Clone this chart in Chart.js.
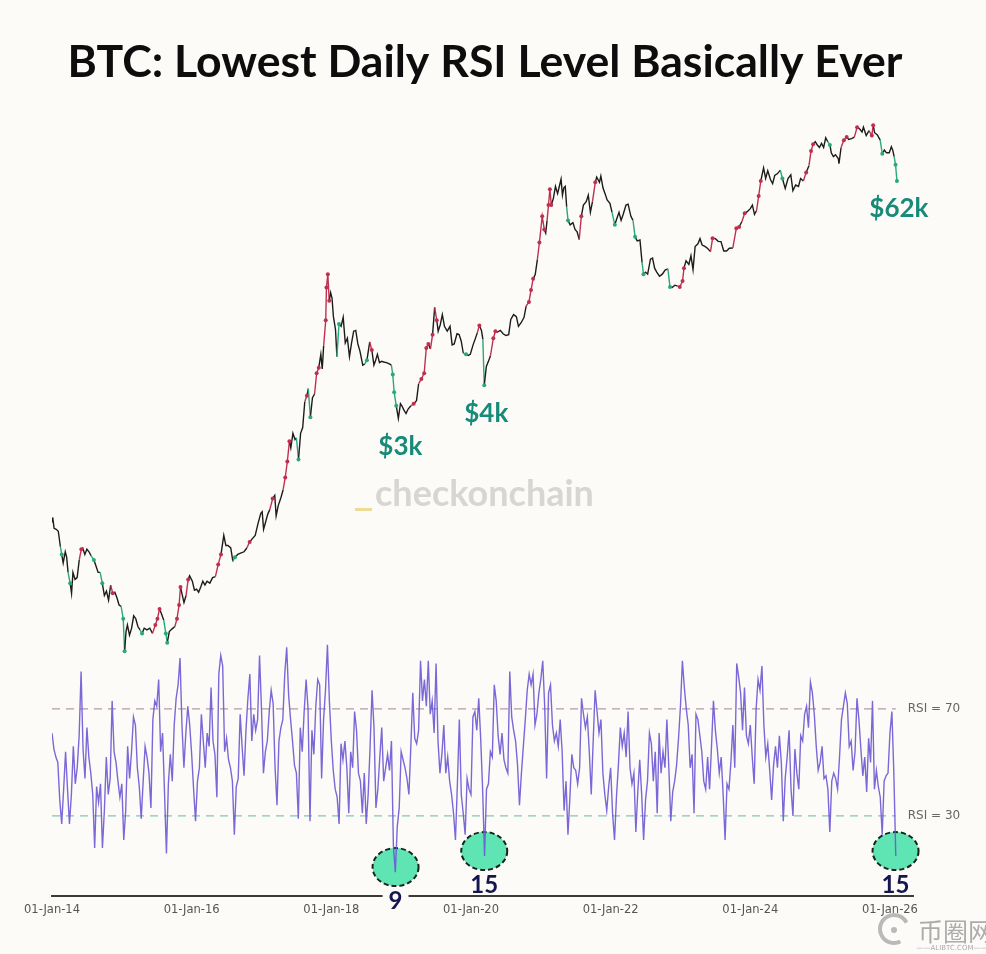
<!DOCTYPE html>
<html>
<head>
<meta charset="utf-8">
<title>BTC: Lowest Daily RSI Level Basically Ever</title>
<script src="https://cdn.jsdelivr.net/npm/chart.js@4.4.1/dist/chart.umd.min.js"></script>
<style>
  html, body { margin: 0; padding: 0; background: #fdfbf8; }
  #wrap { width: 986px; height: 954px; }
</style>
</head>
<body>
<div id="wrap"><canvas id="chart" width="986" height="954"></canvas></div>
<script>
const TITLE = 'BTC: Lowest Daily RSI Level Basically Ever';

// x axis ticks
const tickYears = [2014, 2016, 2018, 2020, 2022, 2024, 2026];
const tickLabels = ['01-Jan-14', '01-Jan-16', '01-Jan-18', '01-Jan-20', '01-Jan-22', '01-Jan-24', '01-Jan-26'];

// BTC daily close (USD), dates as decimal years
const priceYears = [
  2014.00, 2014.01, 2014.03, 2014.06, 2014.09, 2014.12, 2014.14, 2014.16, 2014.19, 2014.21, 2014.23, 2014.26, 2014.28, 2014.30, 2014.33, 2014.36, 2014.39, 2014.42, 2014.44, 2014.47, 2014.50, 2014.53, 2014.56, 2014.60, 2014.63, 2014.66, 2014.69, 2014.72, 2014.75, 2014.78, 2014.81, 2014.84, 2014.87, 2014.90, 2014.93, 2014.96, 2014.99,
  2015.02, 2015.04, 2015.06, 2015.08, 2015.11, 2015.14, 2015.17, 2015.20, 2015.23, 2015.26, 2015.29, 2015.32, 2015.36, 2015.40, 2015.44, 2015.48, 2015.51, 2015.54, 2015.57, 2015.60, 2015.63, 2015.65, 2015.68, 2015.72, 2015.76, 2015.79, 2015.82, 2015.84, 2015.86, 2015.89, 2015.92, 2015.95, 2015.97,
  2016.01, 2016.04, 2016.07, 2016.10, 2016.13, 2016.16, 2016.19, 2016.22, 2016.26, 2016.30, 2016.34, 2016.38, 2016.42, 2016.46, 2016.49, 2016.52, 2016.56, 2016.59, 2016.62, 2016.66, 2016.70, 2016.75, 2016.79, 2016.83, 2016.87, 2016.91, 2016.95, 2016.99,
  2017.01, 2017.03, 2017.06, 2017.09, 2017.12, 2017.16, 2017.19, 2017.21, 2017.24, 2017.28, 2017.31, 2017.34, 2017.37, 2017.40, 2017.42, 2017.45, 2017.48, 2017.50, 2017.53, 2017.56, 2017.59, 2017.62, 2017.65, 2017.67, 2017.70, 2017.73, 2017.76, 2017.79, 2017.82, 2017.85, 2017.87, 2017.89, 2017.92, 2017.93, 2017.95, 2017.97, 2017.99,
  2018.01, 2018.03, 2018.06, 2018.08, 2018.11, 2018.14, 2018.17, 2018.20, 2018.23, 2018.26, 2018.29, 2018.32, 2018.35, 2018.38, 2018.41, 2018.45, 2018.48, 2018.51, 2018.55, 2018.58, 2018.61, 2018.63, 2018.66, 2018.69, 2018.72, 2018.75, 2018.79, 2018.83, 2018.86, 2018.88, 2018.90, 2018.93, 2018.96, 2018.99,
  2019.01, 2019.04, 2019.07, 2019.10, 2019.14, 2019.18, 2019.22, 2019.25, 2019.29, 2019.33, 2019.36, 2019.39, 2019.42, 2019.45, 2019.48, 2019.51, 2019.53, 2019.56, 2019.59, 2019.62, 2019.66, 2019.70, 2019.73, 2019.76, 2019.80, 2019.83, 2019.86, 2019.89, 2019.93, 2019.96, 2019.99,
  2020.03, 2020.06, 2020.09, 2020.12, 2020.15, 2020.17, 2020.19, 2020.22, 2020.25, 2020.28, 2020.32, 2020.35, 2020.38, 2020.42, 2020.46, 2020.50, 2020.54, 2020.57, 2020.61, 2020.65, 2020.68, 2020.72, 2020.76, 2020.79, 2020.83, 2020.86, 2020.89, 2020.92, 2020.95, 2020.98,
  2021.02, 2021.05, 2021.07, 2021.09, 2021.11, 2021.13, 2021.15, 2021.18, 2021.21, 2021.24, 2021.27, 2021.29, 2021.31, 2021.33, 2021.35, 2021.37, 2021.39, 2021.42, 2021.46, 2021.49, 2021.52, 2021.55, 2021.58, 2021.61, 2021.65, 2021.68, 2021.71, 2021.74, 2021.78, 2021.80, 2021.84, 2021.86, 2021.89, 2021.92, 2021.95, 2021.99,
  2022.02, 2022.06, 2022.09, 2022.12, 2022.15, 2022.18, 2022.22, 2022.25, 2022.29, 2022.32, 2022.35, 2022.38, 2022.42, 2022.45, 2022.47, 2022.50, 2022.53, 2022.57, 2022.60, 2022.63, 2022.66, 2022.70, 2022.74, 2022.78, 2022.82, 2022.85, 2022.88, 2022.92, 2022.96, 2022.99,
  2023.03, 2023.05, 2023.08, 2023.12, 2023.15, 2023.18, 2023.21, 2023.25, 2023.28, 2023.31, 2023.35, 2023.39, 2023.43, 2023.46, 2023.50, 2023.54, 2023.58, 2023.62, 2023.66, 2023.70, 2023.75, 2023.80, 2023.84, 2023.88, 2023.92, 2023.96,
  2024.00, 2024.03, 2024.06, 2024.09, 2024.12, 2024.15, 2024.19, 2024.22, 2024.25, 2024.29, 2024.32, 2024.35, 2024.39, 2024.43, 2024.46, 2024.50, 2024.54, 2024.58, 2024.61, 2024.65, 2024.69, 2024.72, 2024.76, 2024.80, 2024.84, 2024.87, 2024.90, 2024.93, 2024.96, 2024.99,
  2025.02, 2025.05, 2025.08, 2025.11, 2025.14, 2025.16, 2025.19, 2025.22, 2025.26, 2025.27, 2025.30, 2025.34, 2025.38, 2025.41, 2025.45, 2025.49, 2025.53, 2025.57, 2025.60, 2025.62, 2025.66, 2025.70, 2025.74, 2025.76, 2025.78, 2025.82, 2025.86, 2025.89, 2025.92, 2025.95, 2025.99,
  2026.02, 2026.04, 2026.06, 2026.08, 2026.10
];
const priceUsd = [
  900, 950, 830, 820, 800, 660, 600, 540, 620, 580, 480, 420, 370, 480, 440, 450, 560, 640, 650, 600, 640, 620, 590, 560, 520, 480, 480, 420, 360, 380, 340, 410, 370, 375, 350, 320, 315,
  270, 180, 230, 250, 220, 240, 280, 270, 245, 235, 225, 240, 235, 240, 225, 250, 270, 305, 285, 265, 225, 200, 230, 238, 245, 270, 320, 400, 370, 330, 360, 440, 460,
  430, 385, 390, 375, 400, 430, 410, 430, 420, 450, 455, 530, 600, 760, 670, 670, 650, 550, 580, 600, 610, 620, 650, 700, 730, 760, 880, 1000,
  1020, 820, 900, 990, 1050, 1200, 1250, 970, 1100, 1220, 1340, 1560, 1900, 2450, 2250, 2700, 2500, 2550, 1950, 2700, 2900, 4000, 4300, 4700, 3300, 4200, 4400, 5700, 6100, 7200, 6000, 8000, 11000, 16500, 19500, 14000, 15500,
  14500, 11500, 9800, 7000, 10500, 10200, 11400, 8300, 8800, 7000, 8300, 9600, 9700, 8200, 7500, 6300, 6400, 6700, 8400, 7600, 6300, 6600, 7200, 6500, 6600, 6550, 6500, 6400, 6300, 5600, 4500, 3800, 3250, 3900,
  3800, 3600, 3450, 3650, 3800, 3900, 4050, 5000, 5300, 5700, 7800, 8200, 7700, 9200, 12900, 11000, 9600, 10400, 11800, 10200, 9600, 10200, 8100, 8200, 9300, 9200, 8500, 7300, 7200, 7100, 7200,
  8100, 8700, 9400, 10300, 9700, 8700, 4900, 6200, 6600, 7100, 8800, 9600, 9500, 9700, 9300, 9100, 9200, 11100, 11800, 11500, 10200, 10700, 11400, 13100, 13800, 16000, 18400, 19400, 23300, 28900,
  40000, 34000, 32500, 38000, 46000, 56000, 46000, 50000, 58000, 53000, 59000, 63500, 52000, 57000, 58000, 45000, 38000, 36000, 37000, 34000, 33000, 30000, 40000, 46000, 48000, 52000, 42000, 48000, 61000, 65000, 61000, 66000, 57000, 53000, 49000, 47000,
  42000, 36000, 39000, 42000, 38000, 41000, 46000, 46500, 40000, 38000, 31000, 29500, 29800, 22500, 19500, 20000, 19500, 23500, 23800, 21000, 20000, 19000, 19500, 20500, 20800, 16600, 16500, 17000, 16800, 16600,
  17900, 21000, 23000, 22000, 24500, 20600, 27500, 28400, 30300, 28000, 27500, 26800, 25800, 30500, 30300, 29300, 29200, 26000, 26000, 26900, 27000, 34500, 35000, 37500, 41500, 42500,
  44000, 46000, 41000, 43000, 51500, 62000, 73000, 64000, 70500, 63000, 60000, 66500, 68000, 71000, 64000, 56500, 64000, 67000, 55000, 59000, 58000, 64000, 62000, 69000, 75000, 90000, 98000, 101000, 97000, 94000,
  99000, 94000, 106000, 101000, 97000, 88000, 84000, 86000, 82000, 77000, 94000, 103000, 107000, 104000, 105000, 107000, 121000, 118000, 114000, 121000, 109000, 116000, 109000, 124000, 113000, 110000, 103000, 87000, 91000, 88000, 88000,
  95000, 91000, 84000, 76000, 62000
];

// daily RSI, sampled 36 times a year from 01-Jan-14
const RSI_START = 2014;
const RSI_PER_YEAR = 36;
const rsiValues = [
  61, 55, 52, 50, 36, 27, 40, 54, 40, 27, 38, 56, 42, 48, 60, 84, 55, 44, 63, 52,
  46, 38, 18, 41, 35, 42, 18, 32, 52, 38, 44, 73, 54, 50, 43, 37, 42, 21, 32, 56,
  44, 54, 67, 64, 48, 41, 29, 43, 56, 52, 46, 33, 66, 73, 71, 81, 54, 61, 39, 16,
  42, 53, 43, 64, 74, 79, 89, 64, 48, 61, 71, 64, 53, 40, 28, 43, 48, 68, 58, 48,
  61, 56, 78, 58, 53, 37, 83, 90, 86, 54, 59, 51, 48, 43, 23, 41, 44, 68, 56, 45,
  62, 74, 83, 58, 68, 62, 66, 90, 70,
  46, 54, 58, 69, 77, 72, 48, 34, 58, 63, 66, 83, 93, 75, 66, 58, 49, 46, 29, 63,
  54, 69, 81, 70, 28, 62, 53, 71, 81, 79, 44, 66, 77, 94, 73, 58, 47, 40, 37, 27,
  57, 51, 58, 48, 31, 54, 48, 69, 62, 46, 43, 31, 46, 27, 38, 56, 77, 63, 33, 40,
  52, 63, 43, 48, 53, 47, 58, 19, 9, 26, 33, 54, 51, 48, 44, 38, 56, 76, 59, 57,
  62, 88, 73, 81, 71, 88, 68, 73, 61, 87, 58, 46, 53, 64, 46, 52, 43, 38, 31, 21,
  42, 66, 38, 31, 23, 44, 40, 38,
  67, 69, 62, 74, 59, 40, 15, 40, 42, 54, 52, 79, 73, 60, 53, 61, 51, 48, 46, 84,
  67, 62, 58, 49, 34, 46, 56, 66, 77, 83, 79, 83, 64, 68, 76, 81, 88, 71, 44, 76,
  79, 64, 58, 61, 56, 66, 54, 32, 43, 23, 37, 53, 48, 47, 42, 48, 74, 68, 63, 67,
  54, 38, 58, 77, 69, 61, 66, 46, 38, 32, 41, 48, 31, 21, 37, 49, 63, 56, 61, 52,
  69, 48, 42, 46, 24, 39, 51, 38, 21, 36, 43, 61, 57, 43, 54, 31, 61, 46, 54, 48,
  66, 48, 28, 39, 43, 49, 59, 71,
  88, 78, 70, 64, 48, 53, 31, 68, 66, 60, 54, 43, 40, 52, 40, 56, 73, 62, 55, 46,
  52, 38, 21, 42, 40, 50, 64, 48, 87, 82, 76, 62, 78, 60, 57, 64, 52, 42, 70, 81,
  77, 86, 64, 52, 57, 47, 36, 49, 56, 48, 60, 50, 28, 44, 52, 62, 40, 30, 55, 46,
  40, 60, 58, 68, 71, 63, 80, 76, 68, 56, 47, 50, 56, 44, 45, 40, 24, 43, 46, 44,
  40, 52, 66, 71, 76, 72, 56, 58, 47, 54, 74, 66, 55, 45, 52, 39, 59, 50, 73, 40,
  47, 41, 37, 23, 43, 45, 46, 61, 69, 46, 15
];
const rsiYears = rsiValues.map((_, i) => RSI_START + i / RSI_PER_YEAR);
const rsiEnd = rsiYears[rsiYears.length - 1];

// overbought / oversold guide levels
const rsiLevels = [70, 30];
const rsiLevelLabels = ['RSI = 70', 'RSI = 30'];

// callouts on the price line
const calloutYears = [2018.96, 2020.19, 2026.10];
const calloutLabels = ['$3k', '$4k', '$62k'];

// circled RSI lows
const lowYears = [2018.92, 2020.19, 2026.08];

const HOT = '#c0304e';
const COLD = '#27a97c';
const BG = '#fdfbf8';

function rsiAt(year) {
  let i = Math.round((year - RSI_START) * RSI_PER_YEAR);
  i = Math.max(0, Math.min(rsiValues.length - 1, i));
  return rsiValues[i];
}

function zoneColor(year, normal) {
  const r = rsiAt(year);
  if (r > 70) return HOT;
  if (r < 30) return COLD;
  return normal;
}

const decorations = {
  id: 'decorations',
  beforeDraw(chart) {
    const { ctx, width, height } = chart;
    ctx.save();
    ctx.fillStyle = BG;
    ctx.fillRect(0, 0, width, height);
    ctx.restore();
  },
  beforeDatasetsDraw(chart) {
    const { ctx, scales } = chart;
    ctx.save();
    lowYears.forEach(yr => {
      const cx = scales.x.getPixelForValue(yr);
      const cy = scales.rsi.getPixelForValue(rsiAt(yr)) - 5;
      ctx.beginPath();
      ctx.ellipse(cx, cy, 23, 19, 0, 0, Math.PI * 2);
      ctx.fillStyle = '#5fe4b3';
      ctx.fill();
      ctx.setLineDash([5, 3]);
      ctx.lineWidth = 2;
      ctx.strokeStyle = '#18221e';
      ctx.stroke();
    });
    ctx.restore();
  },
  afterDraw(chart) {
    const { ctx, scales } = chart;
    ctx.save();

    // title, squeezed to the width of the original
    ctx.font = 'bold 44px Lato';
    ctx.fillStyle = '#0d0d0d';
    ctx.textAlign = 'center';
    ctx.textBaseline = 'alphabetic';
    const tw = ctx.measureText(TITLE).width;
    ctx.save();
    ctx.translate(485, 77);
    ctx.scale(835 / tw, 1);
    ctx.fillText(TITLE, 0, 0);
    ctx.restore();

    // watermark
    ctx.font = 'bold 36px Lato';
    ctx.fillStyle = '#d7d6d3';
    ctx.textAlign = 'left';
    ctx.fillText('checkonchain', 375, 506);
    ctx.fillStyle = '#eddc98';
    ctx.fillRect(355, 508, 17, 3);

    // price callouts
    ctx.font = 'bold 26px Lato';
    ctx.fillStyle = '#178a78';
    ctx.textAlign = 'center';
    ctx.textBaseline = 'middle';
    calloutYears.forEach((yr, k) => {
      const idx = priceYears.indexOf(yr);
      const px = scales.x.getPixelForValue(yr);
      const py = scales.price.getPixelForValue(priceUsd[idx]);
      ctx.fillText(calloutLabels[k], px + 2, py + 28);
    });

    // RSI level labels
    ctx.font = '12px "DejaVu Sans"';
    ctx.fillStyle = '#666666';
    ctx.textAlign = 'left';
    rsiLevels.forEach((lvl, k) => {
      ctx.fillText(rsiLevelLabels[k], scales.x.getPixelForValue(rsiEnd) + 12, scales.rsi.getPixelForValue(lvl));
    });

    // values of the circled lows
    ctx.font = 'bold 24px Lato';
    lowYears.forEach(yr => {
      const v = rsiAt(yr);
      const cx = scales.x.getPixelForValue(yr);
      const cy = scales.rsi.getPixelForValue(v) - 5 + 33;
      const txt = String(v);
      const w = ctx.measureText(txt).width + 12;
      ctx.fillStyle = BG;
      ctx.fillRect(cx - w / 2, cy - 10, w, 20);
      ctx.fillStyle = '#15154f';
      ctx.textAlign = 'center';
      ctx.fillText(txt, cx, cy + 1);
    });

    // repost logo, bottom right
    ctx.strokeStyle = '#b9b9b9';
    ctx.lineWidth = 4;
    ctx.setLineDash([]);
    ctx.beginPath();
    ctx.arc(894, 929, 14, Math.PI * 0.35, Math.PI * 1.85);
    ctx.stroke();
    ctx.fillStyle = '#b9b9b9';
    ctx.beginPath();
    ctx.arc(894, 930, 3, 0, Math.PI * 2);
    ctx.fill();
    ctx.font = '25px "Noto Sans CJK SC"';
    ctx.fillStyle = '#acacac';
    ctx.textAlign = 'left';
    ctx.textBaseline = 'alphabetic';
    ctx.fillText('币圈网', 918, 941);
    ctx.font = '7px "DejaVu Sans"';
    ctx.textAlign = 'center';
    ctx.fillText('——ALIBTC.COM——', 952, 950);

    ctx.restore();
  }
};

const priceData = priceYears.map((x, i) => ({ x, y: priceUsd[i] }));
const rsiData = rsiYears.map((x, i) => ({ x, y: rsiValues[i] }));

const levelSets = rsiLevels.map((lvl, k) => ({
  label: rsiLevelLabels[k],
  data: [{ x: RSI_START, y: lvl }, { x: rsiEnd, y: lvl }],
  yAxisID: 'rsi',
  borderColor: lvl > 50 ? 'rgba(160, 120, 140, 0.75)' : 'rgba(110, 185, 170, 0.85)',
  borderWidth: 1.2,
  borderDash: [8, 6],
  pointRadius: 0,
  order: 3,
}));

new Chart(document.getElementById('chart'), {
  type: 'line',
  data: {
    datasets: [
      ...levelSets,
      {
        label: 'RSI',
        data: rsiData,
        yAxisID: 'rsi',
        borderColor: 'rgba(108, 88, 212, 0.9)',
        borderWidth: 1.4,
        pointRadius: 0,
        order: 2,
      },
      {
        label: 'BTC price',
        data: priceData,
        yAxisID: 'price',
        borderColor: '#1c1c1c',
        borderWidth: 1.4,
        segment: {
          borderColor: c => zoneColor(c.p1.parsed.x, '#1c1c1c'),
        },
        pointRadius: c => {
          const r = rsiAt(c.raw ? c.raw.x : 0);
          return (r > 70 || r < 30) ? 2 : 0;
        },
        pointBackgroundColor: c => zoneColor(c.raw ? c.raw.x : 0, '#1c1c1c'),
        pointBorderWidth: 0,
        order: 1,
      },
    ],
  },
  options: {
    responsive: false,
    animation: false,
    events: [],
    layout: { padding: { left: 52, right: 73, top: 100, bottom: 30 } },
    plugins: {
      legend: { display: false },
      tooltip: { enabled: false },
      title: { display: false },
    },
    scales: {
      x: {
        type: 'linear',
        min: 2014,
        max: 2026.33,
        grid: { display: false, drawTicks: false },
        border: { display: true, color: '#3a3a3a', width: 2 },
        afterBuildTicks: s => { s.ticks = tickYears.map(v => ({ value: v })); },
        ticks: {
          padding: 7,
          color: '#555555',
          autoSkip: false,
          maxRotation: 0,
          font: { family: 'DejaVu Sans', size: 11.5 },
          callback: (v, i) => tickLabels[i],
        },
      },
      price: { axis: 'y', position: 'left', type: 'logarithmic', display: false, min: 8.6, max: 169600 },
      rsi: { axis: 'y', position: 'right', type: 'linear', display: false, min: 0, max: 297.6 },
    },
  },
  plugins: [decorations],
});
</script>
</body>
</html>
